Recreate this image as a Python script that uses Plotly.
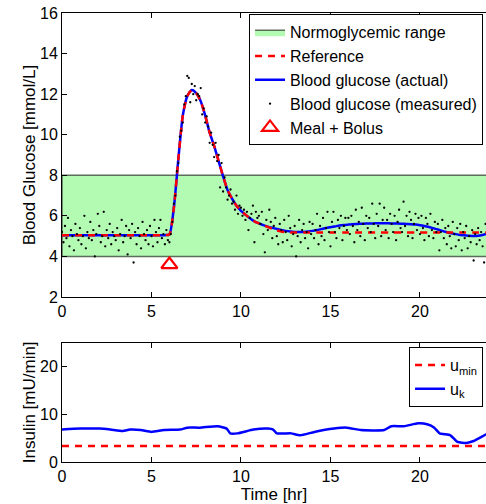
import numpy as np
import plotly.graph_objects as go

# ---------------- data ----------------
normo_low = 4.0
normo_high = 8.0

t_curve = [i * 0.25 for i in range(97)]  # 0 .. 24 h
bg_actual = (
    [5.05] * 24 +
    [5.08, 6.4, 8.8, 10.95,
     11.9, 12.2, 12.05, 11.65,
     10.95, 10.1, 9.45, 8.7,
     7.95, 7.27, 6.85, 6.5,
     6.25, 6.06, 5.88, 5.73,
     5.63, 5.54, 5.47, 5.41,
     5.35, 5.3, 5.26, 5.23,
     5.21, 5.2, 5.21, 5.23,
     5.26, 5.3, 5.35, 5.4,
     5.44, 5.48, 5.52, 5.55,
     5.57, 5.59, 5.6, 5.61,
     5.62, 5.62, 5.63, 5.63,
     5.63, 5.63, 5.62, 5.62,
     5.61, 5.6, 5.59, 5.57,
     5.54, 5.5, 5.45, 5.39,
     5.33, 5.26, 5.2, 5.14,
     5.1, 5.06, 5.04, 5.02,
     5.01, 5.02, 5.06, 5.12,
     5.2]
)
bg_reference = (
    [5.05] * 24 +
    [5.08, 6.4, 8.8, 10.95,
     11.9, 12.2, 12.05, 11.65,
     10.95, 10.1, 9.45, 8.7,
     7.95, 7.27, 6.85, 6.5,
     6.25, 6.06, 5.88, 5.73,
     5.63, 5.54, 5.45, 5.36,
     5.28, 5.23, 5.2] +
    [5.18] * 46
)

t_meas = [i / 12 for i in range(288)]  # 5-min samples
bg_measured = [
    5.2, 4.7, 5.5, 4.9, 5.9, 4.5, 5.3, 5.0, 4.3, 5.6, 5.1, 4.8,
    5.4, 4.6, 5.0, 6.0, 4.4, 5.2, 4.9, 5.7, 4.8, 5.3, 4.0, 5.1,
    6.1, 5.5, 4.7, 5.0, 6.2, 4.5, 5.3, 4.9, 5.6, 4.6, 5.2, 5.0,
    4.8, 5.4, 4.3, 5.1, 5.8, 4.7, 5.0, 5.5, 4.1, 5.3, 4.9, 5.6,
    3.7, 5.2, 4.6, 5.4, 5.0, 4.4, 5.7, 5.1, 4.8, 5.3, 4.6, 5.5,
    5.0, 4.5, 5.8, 5.2, 4.7, 5.4, 5.8, 4.9, 5.1, 4.6, 5.3, 4.8,
    4.7, 5.1, 5.7, 6.6, 7.0, 8.2, 8.6, 9.9, 10.2, 10.6, 11.5, 11.9,
    12.9, 12.8, 11.6, 12.5, 12.0, 12.4, 11.7, 12.0, 11.9, 12.3, 11.0, 11.3,
    10.6, 10.9, 10.4, 9.6, 10.1, 9.5, 8.9, 9.6, 8.7, 9.0, 7.4, 8.6,
    7.2, 7.9, 7.4, 6.8, 7.0, 7.3, 6.6, 6.7, 6.3, 7.0, 6.1, 6.5,
    6.4, 6.0, 6.3, 5.8, 6.2, 5.3, 5.9, 6.1, 6.5, 4.7, 6.2, 5.9,
    6.0, 5.6, 6.2, 5.1, 4.2, 5.8, 5.3, 6.3, 5.7, 4.9, 5.5, 5.9,
    5.0, 4.6, 5.6, 5.3, 4.7, 5.8, 5.2, 4.8, 6.0, 5.4, 4.5, 5.1,
    5.5, 4.0, 5.0, 5.8, 4.7, 5.3, 5.6, 4.9, 5.2, 4.4, 5.7, 5.1,
    5.6, 4.9, 5.3, 6.1, 4.6, 5.5, 5.0, 5.9, 4.8, 5.4, 6.2, 5.2,
    4.5, 5.7, 6.2, 5.2, 4.9, 5.8, 5.4, 6.0, 4.8, 5.5, 5.9, 5.3,
    5.9, 5.1, 6.0, 5.5, 4.7, 6.3, 5.3, 5.7, 5.0, 6.4, 5.6, 4.8,
    6.0, 5.4, 5.9, 5.2, 6.6, 5.6, 4.9, 6.1, 5.5, 6.6, 5.0, 5.8,
    6.4, 5.3, 5.8, 4.9, 6.1, 5.6, 5.2, 6.0, 4.8, 5.7, 6.3, 5.4,
    5.2, 6.7, 5.5, 6.0, 5.0, 6.2, 5.8, 4.9, 5.6, 6.1, 5.3, 5.9,
    5.1, 6.0, 5.4, 4.8, 5.9, 5.6, 5.0, 6.1, 5.3, 4.9, 5.7, 5.2,
    5.6, 4.3, 5.2, 5.8, 4.9, 5.4, 4.6, 5.5, 5.0, 4.4, 5.7, 5.1,
    4.5, 5.4, 4.8, 5.6, 4.3, 5.2, 4.9, 5.5, 4.4, 5.0, 4.7, 5.3,
    3.8, 5.1, 4.6, 5.4, 4.8, 5.2, 4.5, 3.7, 5.6, 4.9, 5.3, 5.0,
]

meal_time = [6.0]
meal_marker_level = [3.6]

ins_t = [0, 1.0, 2.1, 2.7, 3.4, 3.8, 4.4, 5.0, 5.7, 6.6, 7.0, 7.7, 8.7, 9.2,
         9.4, 9.8, 10.7, 11.5, 11.8, 12.0, 12.8, 13.3, 14.1, 15.2, 15.9, 16.7,
         18.0, 18.4, 19.1, 19.9, 20.4, 20.8, 21.1, 21.7, 22.1, 22.6, 23.0, 23.7, 24.0]
ins_u = [6.8, 7.0, 7.0, 6.8, 6.5, 6.8, 6.7, 6.3, 6.7, 6.8, 7.2, 7.2, 7.5, 7.0,
         6.0, 6.0, 6.8, 7.0, 6.8, 6.0, 6.0, 5.6, 6.3, 7.0, 7.2, 6.7,
         6.7, 7.5, 7.5, 8.1, 7.9, 7.2, 6.0, 5.6, 4.2, 4.0, 4.4, 5.8, 6.3]
u_min = 3.37
t_span = [0, 24]

x_ticks = [0, 5, 10, 15, 20]
bg_ticks = [2, 4, 6, 8, 10, 12, 14, 16]
ins_ticks = [0, 10, 20]

# ---------------- figure ----------------
FONT = "Liberation Sans, Arial, Helvetica, sans-serif"
fig = go.Figure()

fig.add_trace(go.Scatter(
    x=[t_span[0], t_span[1], t_span[1], t_span[0], t_span[0]],
    y=[normo_low, normo_low, normo_high, normo_high, normo_low],
    mode="lines", fill="toself", fillcolor="rgb(179,250,179)",
    line=dict(color="rgb(90,110,90)", width=1.5),
    name="Normoglycemic range", legend="legend", legendrank=1,
    xaxis="x", yaxis="y"))

fig.add_trace(go.Scatter(
    x=t_curve, y=bg_actual, mode="lines", line=dict(color="#0000ff", width=2.5, shape="spline", smoothing=0.6),
    name="Blood glucose (actual)", legend="legend", legendrank=3, xaxis="x", yaxis="y"))

fig.add_trace(go.Scatter(
    x=t_curve, y=bg_reference, mode="lines",
    line=dict(color="#ff0000", width=2.5, dash="7px,6px", shape="spline", smoothing=0.6),
    name="Reference", legend="legend", legendrank=2, xaxis="x", yaxis="y"))

fig.add_trace(go.Scatter(
    x=t_meas, y=bg_measured, mode="markers",
    marker=dict(color="black", size=2.3),
    name="Blood glucose (measured)", legend="legend", legendrank=4, xaxis="x", yaxis="y"))

fig.add_trace(go.Scatter(
    x=meal_time, y=meal_marker_level, mode="markers",
    marker=dict(symbol="triangle-up-open", color="#ff0000", size=14, line=dict(width=2.2, color="#ff0000")),
    name="Meal + Bolus", legend="legend", legendrank=5, xaxis="x", yaxis="y"))

fig.add_trace(go.Scatter(
    x=t_span, y=[u_min, u_min], mode="lines",
    line=dict(color="#ff0000", width=2.5, dash="7px,6px"),
    name="u<sub>min</sub>", legend="legend2", xaxis="x2", yaxis="y2"))

fig.add_trace(go.Scatter(
    x=ins_t, y=ins_u, mode="lines",
    line=dict(color="#0000ff", width=2.5, shape="spline", smoothing=0.5),
    name="u<sub>k</sub>", legend="legend2", xaxis="x2", yaxis="y2"))

axis_common = dict(
    showline=True, linecolor="black", linewidth=1,
    ticks="inside", ticklen=5, tickcolor="black",
    showgrid=False, zeroline=False, automargin=False,
    tickfont=dict(family=FONT, size=16, color="black"),
)

H = 449.0
top_lo = (462 - 297) / H
bot_hi = (462 - 342.7) / H

fig.update_layout(
    width=486, height=504,
    margin=dict(l=62, r=0, t=13, b=42, autoexpand=False),
    paper_bgcolor="white", plot_bgcolor="white",
    font=dict(family=FONT, size=16, color="black"),
    xaxis=dict(axis_common, domain=[0, 1], range=[0, 23.69], tickvals=x_ticks,
               anchor="y", mirror="ticks"),
    yaxis=dict(axis_common, domain=[top_lo, 1], range=[2, 16], tickvals=bg_ticks,
               anchor="x", mirror=False,
               title=dict(text="Blood Glucose [mmol/L]", font=dict(size=17), standoff=0)),
    xaxis2=dict(axis_common, domain=[0, 1], range=[0, 23.69], tickvals=x_ticks,
                anchor="y2", mirror="ticks",
                title=dict(text="Time [hr]", font=dict(size=17), standoff=0)),
    yaxis2=dict(axis_common, domain=[0, bot_hi], range=[0, 25], tickvals=ins_ticks,
                anchor="x2", mirror=False,
                title=dict(text="Insulin [mU/min]", font=dict(size=17), standoff=0)),
    legend=dict(x=0.993, y=0.997, xanchor="right", yanchor="top",
                bgcolor="white", bordercolor="black", borderwidth=1,
                font=dict(family=FONT, size=16, color="black"),
                itemwidth=30, tracegroupgap=0, traceorder="normal"),
    legend2=dict(x=0.993, y=0.256, xanchor="right", yanchor="top",
                 bgcolor="white", bordercolor="black", borderwidth=1,
                 font=dict(family=FONT, size=16, color="black"),
                 itemwidth=30, traceorder="normal"),
    showlegend=True,
)

fig.write_html(
    "out.html",
    config={"displayModeBar": False},
    post_script="document.body.style.margin='0';document.body.style.overflow='hidden';",
)
